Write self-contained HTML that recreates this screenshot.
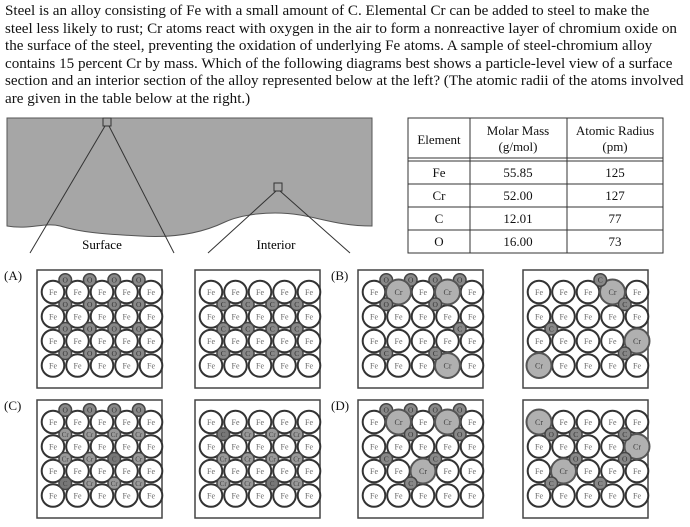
<!DOCTYPE html>
<html><head><meta charset="utf-8"><style>
body{margin:0;width:690px;height:527px;background:#fff;overflow:hidden;font-family:"Liberation Serif",serif;}
.t{position:absolute;left:5px;top:3px;width:684px;font-size:15.1px;line-height:17.6px;color:#111;white-space:nowrap;}
svg{position:absolute;left:0;top:0}
</style></head><body>
<div class="t">Steel is an alloy consisting of Fe with a small amount of C. Elemental Cr can be added to steel to make the<br>
steel less likely to rust; Cr atoms react with oxygen in the air to form a nonreactive layer of chromium oxide on<br>
the surface of the steel, preventing the oxidation of underlying Fe atoms. A sample of steel-chromium alloy<br>
contains 15 percent Cr by mass. Which of the following diagrams best shows a particle-level view of a surface<br>
section and an interior section of the alloy represented below at the left? (The atomic radii of the atoms involved<br>
are given in the table below at the right.)</div>
<svg width="690" height="527" font-family="Liberation Serif, serif">
<defs>
<g id="grid" font-size="8" text-anchor="middle" fill="#666">
<rect x="0" y="0" width="125" height="118" fill="#fff" stroke="#444" stroke-width="1.5"/>
<g fill="#fff" stroke="#333" stroke-width="2">
<circle cx="16" cy="22" r="11.3"/><circle cx="40.5" cy="22" r="11.3"/><circle cx="65" cy="22" r="11.3"/><circle cx="89.5" cy="22" r="11.3"/><circle cx="114" cy="22" r="11.3"/>
<circle cx="16" cy="46.5" r="11.3"/><circle cx="40.5" cy="46.5" r="11.3"/><circle cx="65" cy="46.5" r="11.3"/><circle cx="89.5" cy="46.5" r="11.3"/><circle cx="114" cy="46.5" r="11.3"/>
<circle cx="16" cy="71" r="11.3"/><circle cx="40.5" cy="71" r="11.3"/><circle cx="65" cy="71" r="11.3"/><circle cx="89.5" cy="71" r="11.3"/><circle cx="114" cy="71" r="11.3"/>
<circle cx="16" cy="95.5" r="11.3"/><circle cx="40.5" cy="95.5" r="11.3"/><circle cx="65" cy="95.5" r="11.3"/><circle cx="89.5" cy="95.5" r="11.3"/><circle cx="114" cy="95.5" r="11.3"/>
</g>
<text x="16" y="25">Fe</text><text x="40.5" y="25">Fe</text><text x="65" y="25">Fe</text><text x="89.5" y="25">Fe</text><text x="114" y="25">Fe</text>
<text x="16" y="49.5">Fe</text><text x="40.5" y="49.5">Fe</text><text x="65" y="49.5">Fe</text><text x="89.5" y="49.5">Fe</text><text x="114" y="49.5">Fe</text>
<text x="16" y="74">Fe</text><text x="40.5" y="74">Fe</text><text x="65" y="74">Fe</text><text x="89.5" y="74">Fe</text><text x="114" y="74">Fe</text>
<text x="16" y="98.5">Fe</text><text x="40.5" y="98.5">Fe</text><text x="65" y="98.5">Fe</text><text x="89.5" y="98.5">Fe</text><text x="114" y="98.5">Fe</text>
</g>
<g id="topO" font-size="7.5" text-anchor="middle">
<g fill="#888" stroke="#444" stroke-width="1.5"><circle cx="28.25" cy="10" r="6.3"/><circle cx="52.75" cy="10" r="6.3"/><circle cx="77.25" cy="10" r="6.3"/><circle cx="101.75" cy="10" r="6.3"/></g>
<g fill="#333"><text x="28.25" y="12.7">O</text><text x="52.75" y="12.7">O</text><text x="77.25" y="12.7">O</text><text x="101.75" y="12.7">O</text></g>
</g>
</defs>

<!-- steel block -->
<path d="M7 118 L372 118 L372 226 C340 226 320 218 300 215 C270 210 240 215 225 222 C200 234 170 238 140 236 C100 234 80 232 60 226 C45 222 30 230 7 226 Z" fill="#a6a6a6" stroke="#555" stroke-width="1"/>
<rect x="103" y="118" width="8" height="8" fill="none" stroke="#333"/>
<rect x="274" y="183" width="8" height="8" fill="none" stroke="#333"/>
<g stroke="#333" stroke-width="1"><line x1="105" y1="126" x2="30" y2="253"/><line x1="109" y1="126" x2="174" y2="253"/><line x1="276" y1="191" x2="208" y2="253"/><line x1="280" y1="191" x2="350" y2="253"/></g>
<text x="102" y="249" font-size="13" text-anchor="middle">Surface</text>
<text x="276" y="249" font-size="13" text-anchor="middle">Interior</text>

<!-- table -->
<g stroke="#333" stroke-width="1" fill="none">
<rect x="408" y="118" width="255" height="135"/>
<line x1="470" y1="118" x2="470" y2="253"/><line x1="567" y1="118" x2="567" y2="253"/>
<line x1="408" y1="158" x2="663" y2="158"/><line x1="408" y1="161" x2="663" y2="161"/>
<line x1="408" y1="184" x2="663" y2="184"/><line x1="408" y1="207" x2="663" y2="207"/><line x1="408" y1="230" x2="663" y2="230"/>
</g>
<g font-size="13" text-anchor="middle" fill="#111">
<text x="439" y="144">Element</text>
<text x="518" y="135">Molar Mass</text><text x="518" y="151">(g/mol)</text>
<text x="615" y="135">Atomic Radius</text><text x="615" y="151">(pm)</text>
<text x="439" y="177">Fe</text><text x="518" y="177">55.85</text><text x="615" y="177">125</text>
<text x="439" y="200">Cr</text><text x="518" y="200">52.00</text><text x="615" y="200">127</text>
<text x="439" y="223">C</text><text x="518" y="223">12.01</text><text x="615" y="223">77</text>
<text x="439" y="246">O</text><text x="518" y="246">16.00</text><text x="615" y="246">73</text>
</g>

<g font-size="13" fill="#111"><text x="4" y="280">(A)</text><text x="331" y="280">(B)</text><text x="4" y="410">(C)</text><text x="331" y="410">(D)</text></g>

<!-- A left -->
<g transform="translate(37,270)"><use href="#grid"/><use href="#topO"/>
<g fill="#888" stroke="#444" stroke-width="1.5">
<circle cx="28.25" cy="34.25" r="6.3"/><circle cx="52.75" cy="34.25" r="6.3"/><circle cx="77.25" cy="34.25" r="6.3"/><circle cx="101.75" cy="34.25" r="6.3"/>
<circle cx="28.25" cy="58.75" r="6.3"/><circle cx="52.75" cy="58.75" r="6.3"/><circle cx="77.25" cy="58.75" r="6.3"/><circle cx="101.75" cy="58.75" r="6.3"/>
<circle cx="28.25" cy="83.25" r="6.3"/><circle cx="52.75" cy="83.25" r="6.3"/><circle cx="77.25" cy="83.25" r="6.3"/><circle cx="101.75" cy="83.25" r="6.3"/></g>
<g font-size="7.5" text-anchor="middle" fill="#333">
<text x="28.25" y="37">O</text><text x="52.75" y="37">O</text><text x="77.25" y="37">O</text><text x="101.75" y="37">O</text>
<text x="28.25" y="61.5">O</text><text x="52.75" y="61.5">O</text><text x="77.25" y="61.5">O</text><text x="101.75" y="61.5">O</text>
<text x="28.25" y="86">O</text><text x="52.75" y="86">O</text><text x="77.25" y="86">O</text><text x="101.75" y="86">O</text></g></g>

<!-- A right -->
<g transform="translate(195,270)"><use href="#grid"/>
<g fill="#888" stroke="#444" stroke-width="1.5">
<circle cx="28.25" cy="34.25" r="6.3"/><circle cx="52.75" cy="34.25" r="6.3"/><circle cx="77.25" cy="34.25" r="6.3"/><circle cx="101.75" cy="34.25" r="6.3"/>
<circle cx="28.25" cy="58.75" r="6.3"/><circle cx="52.75" cy="58.75" r="6.3"/><circle cx="77.25" cy="58.75" r="6.3"/><circle cx="101.75" cy="58.75" r="6.3"/>
<circle cx="28.25" cy="83.25" r="6.3"/><circle cx="52.75" cy="83.25" r="6.3"/><circle cx="77.25" cy="83.25" r="6.3"/><circle cx="101.75" cy="83.25" r="6.3"/></g>
<g font-size="7.5" text-anchor="middle" fill="#333">
<text x="28.25" y="37">C</text><text x="52.75" y="37">C</text><text x="77.25" y="37">C</text><text x="101.75" y="37">C</text>
<text x="28.25" y="61.5">C</text><text x="52.75" y="61.5">C</text><text x="77.25" y="61.5">C</text><text x="101.75" y="61.5">C</text>
<text x="28.25" y="86">C</text><text x="52.75" y="86">C</text><text x="77.25" y="86">C</text><text x="101.75" y="86">C</text></g></g>

<!-- B left -->
<g transform="translate(358,270)"><use href="#grid"/><use href="#topO"/>
<g fill="#b0b0b0" stroke="#555" stroke-width="2"><circle cx="40.5" cy="22" r="12.5"/><circle cx="89.5" cy="22" r="12.5"/><circle cx="89.5" cy="95.5" r="12.5"/></g>
<g font-size="8" text-anchor="middle" fill="#444"><text x="40.5" y="25">Cr</text><text x="89.5" y="25">Cr</text><text x="89.5" y="98.5">Cr</text></g>
<g fill="#888" stroke="#444" stroke-width="1.5"><circle cx="28.25" cy="34.25" r="6.3"/><circle cx="77.25" cy="34.25" r="6.3"/><circle cx="101.75" cy="58.75" r="6.3"/><circle cx="28.25" cy="83.25" r="6.3"/><circle cx="77.25" cy="83.25" r="6.3"/></g>
<g font-size="7.5" text-anchor="middle" fill="#333"><text x="28.25" y="37">O</text><text x="77.25" y="37">O</text><text x="101.75" y="61.5">C</text><text x="28.25" y="86">C</text><text x="77.25" y="86">C</text></g></g>

<!-- B right -->
<g transform="translate(523,270)"><use href="#grid"/>
<g fill="#b0b0b0" stroke="#555" stroke-width="2"><circle cx="89.5" cy="22" r="12.5"/><circle cx="114" cy="71" r="12.5"/><circle cx="16" cy="95.5" r="12.5"/></g>
<g font-size="8" text-anchor="middle" fill="#444"><text x="89.5" y="25">Cr</text><text x="114" y="74">Cr</text><text x="16" y="98.5">Cr</text></g>
<g fill="#888" stroke="#444" stroke-width="1.5"><circle cx="77.25" cy="10" r="6.3"/><circle cx="101.75" cy="34.25" r="6.3"/><circle cx="28.25" cy="58.75" r="6.3"/><circle cx="101.75" cy="83.25" r="6.3"/></g>
<g font-size="7.5" text-anchor="middle" fill="#333"><text x="77.25" y="12.7">C</text><text x="101.75" y="37">C</text><text x="28.25" y="61.5">C</text><text x="101.75" y="86">C</text></g></g>

<!-- C left -->
<g transform="translate(37,400)"><use href="#grid"/><use href="#topO"/>
<g stroke="#444" stroke-width="1.5" fill="#999">
<circle cx="28.25" cy="34.25" r="6.3"/><circle cx="52.75" cy="34.25" r="6.3"/><circle cx="77.25" cy="34.25" r="6.3"/><circle cx="101.75" cy="34.25" r="6.3"/>
<circle cx="28.25" cy="58.75" r="6.3"/><circle cx="52.75" cy="58.75" r="6.3"/><circle cx="77.25" cy="58.75" r="6.3" fill="#777"/><circle cx="101.75" cy="58.75" r="6.3"/>
<circle cx="28.25" cy="83.25" r="6.3" fill="#777"/><circle cx="52.75" cy="83.25" r="6.3"/><circle cx="77.25" cy="83.25" r="6.3"/><circle cx="101.75" cy="83.25" r="6.3"/></g>
<g font-size="7" text-anchor="middle" fill="#444">
<text x="28.25" y="37">Cr</text><text x="52.75" y="37">Cr</text><text x="77.25" y="37">Cr</text><text x="101.75" y="37">Cr</text>
<text x="28.25" y="61.5">Cr</text><text x="52.75" y="61.5">Cr</text><text x="77.25" y="61.5">C</text><text x="101.75" y="61.5">Cr</text>
<text x="28.25" y="86">C</text><text x="52.75" y="86">Cr</text><text x="77.25" y="86">Cr</text><text x="101.75" y="86">Cr</text></g></g>

<!-- C right -->
<g transform="translate(195,400)"><use href="#grid"/>
<g stroke="#444" stroke-width="1.5" fill="#999">
<circle cx="28.25" cy="34.25" r="6.3" fill="#777"/><circle cx="52.75" cy="34.25" r="6.3"/><circle cx="77.25" cy="34.25" r="6.3"/><circle cx="101.75" cy="34.25" r="6.3"/>
<circle cx="28.25" cy="58.75" r="6.3"/><circle cx="52.75" cy="58.75" r="6.3"/><circle cx="77.25" cy="58.75" r="6.3"/><circle cx="101.75" cy="58.75" r="6.3"/>
<circle cx="28.25" cy="83.25" r="6.3"/><circle cx="52.75" cy="83.25" r="6.3"/><circle cx="77.25" cy="83.25" r="6.3" fill="#777"/><circle cx="101.75" cy="83.25" r="6.3"/></g>
<g font-size="7" text-anchor="middle" fill="#444">
<text x="28.25" y="37">C</text><text x="52.75" y="37">Cr</text><text x="77.25" y="37">Cr</text><text x="101.75" y="37">Cr</text>
<text x="28.25" y="61.5">Cr</text><text x="52.75" y="61.5">Cr</text><text x="77.25" y="61.5">Cr</text><text x="101.75" y="61.5">Cr</text>
<text x="28.25" y="86">Cr</text><text x="52.75" y="86">Cr</text><text x="77.25" y="86">C</text><text x="101.75" y="86">Cr</text></g></g>

<!-- D left -->
<g transform="translate(358,400)"><use href="#grid"/><use href="#topO"/>
<g fill="#b0b0b0" stroke="#555" stroke-width="2"><circle cx="40.5" cy="22" r="12.5"/><circle cx="89.5" cy="22" r="12.5"/><circle cx="65" cy="71" r="12.5"/></g>
<g font-size="8" text-anchor="middle" fill="#444"><text x="40.5" y="25">Cr</text><text x="89.5" y="25">Cr</text><text x="65" y="74">Cr</text></g>
<g fill="#888" stroke="#444" stroke-width="1.5"><circle cx="52.75" cy="34.25" r="6.3"/><circle cx="101.75" cy="34.25" r="6.3"/><circle cx="28.25" cy="58.75" r="6.3"/><circle cx="77.25" cy="58.75" r="6.3"/><circle cx="52.75" cy="83.25" r="6.3"/></g>
<g font-size="7.5" text-anchor="middle" fill="#333"><text x="52.75" y="37">O</text><text x="101.75" y="37">O</text><text x="28.25" y="61.5">C</text><text x="77.25" y="61.5">C</text><text x="52.75" y="86">C</text></g></g>

<!-- D right -->
<g transform="translate(523,400)"><use href="#grid"/>
<g fill="#b0b0b0" stroke="#555" stroke-width="2"><circle cx="16" cy="22" r="12.5"/><circle cx="114" cy="46.5" r="12.5"/><circle cx="40.5" cy="71" r="12.5"/></g>
<g font-size="8" text-anchor="middle" fill="#444"><text x="16" y="25">Cr</text><text x="114" y="49.5">Cr</text><text x="40.5" y="74">Cr</text></g>
<g fill="#888" stroke="#444" stroke-width="1.5"><circle cx="28.25" cy="34.25" r="6.3"/><circle cx="52.75" cy="34.25" r="6.3"/><circle cx="101.75" cy="34.25" r="6.3"/><circle cx="52.75" cy="58.75" r="6.3"/><circle cx="101.75" cy="58.75" r="6.3"/><circle cx="28.25" cy="83.25" r="6.3"/><circle cx="77.25" cy="83.25" r="6.3"/></g>
<g font-size="7.5" text-anchor="middle" fill="#333"><text x="28.25" y="37">O</text><text x="52.75" y="37">C</text><text x="101.75" y="37">C</text><text x="52.75" y="61.5">O</text><text x="101.75" y="61.5">O</text><text x="28.25" y="86">C</text><text x="77.25" y="86">C</text></g></g>
</svg>
</body></html>
